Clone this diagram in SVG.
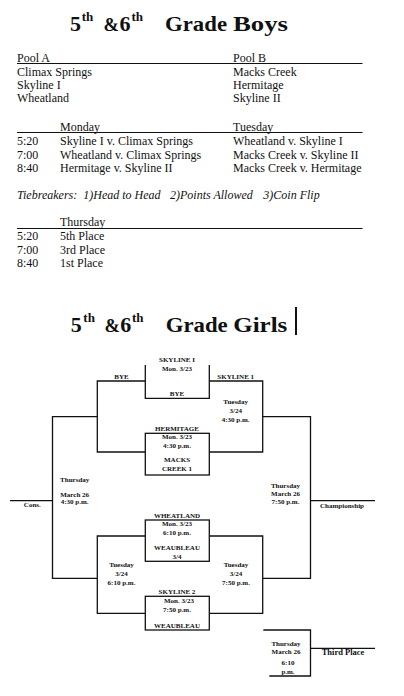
<svg xmlns="http://www.w3.org/2000/svg" width="404" height="696" viewBox="0 0 404 696">
<style>
.t{font-family:"Liberation Serif","Times New Roman",serif;font-size:12px;fill:#111}
.ti{font-family:"Liberation Serif","Times New Roman",serif;font-size:12px;font-style:italic;fill:#111}
.h{font-family:"Liberation Serif","Times New Roman",serif;font-size:22px;font-weight:bold;fill:#111}
.hs{font-size:13px}
.amp{font-size:18.5px}
.b{font-family:"Liberation Serif","Times New Roman",serif;font-size:7px;font-weight:bold;fill:#111;text-anchor:middle}
.bl{font-family:"Liberation Serif","Times New Roman",serif;font-size:8.5px;font-weight:bold;fill:#111;text-anchor:middle}
.ln{stroke:#111;stroke-width:1.3;fill:none}
.ul{stroke:#111;stroke-width:1.2;fill:none}
</style>
<rect width="404" height="696" fill="#fff"/>

<g id="boys-title">
<text class="h" y="30.7"><tspan x="70">5</tspan><tspan class="hs" x="81.7" y="20.7">th</tspan><tspan class="amp" x="103.5" y="30.7">&amp;</tspan><tspan x="119.5">6</tspan><tspan class="hs" x="131.5" y="20.7">th</tspan><tspan x="165" y="30.7" textLength="62" lengthAdjust="spacingAndGlyphs">Grade</tspan><tspan x="233" textLength="55" lengthAdjust="spacingAndGlyphs">Boys</tspan></text>
</g>

<g id="pools">
<text class="t" x="17" y="62">Pool A</text>
<text class="t" x="233" y="62">Pool B</text>
<line class="ul" x1="17" y1="63.5" x2="362.5" y2="63.5"/>
<text class="t" x="17" y="75.5">Climax Springs</text>
<text class="t" x="17" y="89">Skyline I</text>
<text class="t" x="17" y="102">Wheatland</text>
<text class="t" x="233" y="75.5">Macks Creek</text>
<text class="t" x="233" y="89">Hermitage</text>
<text class="t" x="233" y="102">Skyline II</text>
</g>

<g id="schedule">
<text class="t" x="60" y="130.5">Monday</text>
<text class="t" x="233" y="130.5">Tuesday</text>
<line class="ul" x1="17" y1="132.5" x2="362.5" y2="132.5"/>
<text class="t" x="17" y="145">5:20</text>
<text class="t" x="17" y="158.5">7:00</text>
<text class="t" x="17" y="172">8:40</text>
<text class="t" x="60" y="145">Skyline I v. Climax Springs</text>
<text class="t" x="60" y="158.5">Wheatland v. Climax Springs</text>
<text class="t" x="60" y="172">Hermitage v. Skyline II</text>
<text class="t" x="233" y="145">Wheatland v. Skyline I</text>
<text class="t" x="233" y="158.5">Macks Creek v. Skyline II</text>
<text class="t" x="233" y="172">Macks Creek v. Hermitage</text>
</g>

<g id="tiebreakers">
<text class="ti" x="17" y="198.5">Tiebreakers:</text>
<text class="ti" x="83.3" y="198.5">1)Head to Head</text>
<text class="ti" x="170" y="198.5">2)Points Allowed</text>
<text class="ti" x="263.3" y="198.5">3)Coin Flip</text>
</g>

<g id="thursday">
<text class="t" x="60" y="226">Thursday</text>
<line class="ul" x1="17" y1="228.5" x2="362.5" y2="228.5"/>
<text class="t" x="17" y="240">5:20</text>
<text class="t" x="17" y="253.5">7:00</text>
<text class="t" x="17" y="267">8:40</text>
<text class="t" x="60" y="240">5th Place</text>
<text class="t" x="60" y="253.5">3rd Place</text>
<text class="t" x="60" y="267">1st Place</text>
</g>

<g id="girls-title">
<text class="h" y="331.7"><tspan x="70.7">5</tspan><tspan class="hs" x="83.3" y="321.7">th</tspan><tspan class="amp" x="104.5" y="331.7">&amp;</tspan><tspan x="120.3">6</tspan><tspan class="hs" x="132" y="321.7">th</tspan><tspan x="165.7" y="331.7" textLength="62" lengthAdjust="spacingAndGlyphs">Grade</tspan><tspan x="233.3" textLength="54" lengthAdjust="spacingAndGlyphs">Girls</tspan></text>
<line x1="296" y1="307" x2="296" y2="335" stroke="#111" stroke-width="2"/>
</g>

<g id="connectors">
<polyline class="ln" points="145.3,365 145.3,398.3 209.3,398.3 209.3,365"/>
<polyline class="ln" points="145.3,381 97.3,381 97.3,452 145.3,452"/>
<polyline class="ln" points="209.3,381 262.7,381 262.7,452 209.3,452"/>
<polyline class="ln" points="97.3,416.7 52.5,416.7 52.5,578.3 97.3,578.3"/>
<polyline class="ln" points="262.7,416.7 310.5,416.7 310.5,578.3 262.7,578.3"/>
<line class="ln" x1="10" y1="500.7" x2="52.5" y2="500.7"/>
<line class="ln" x1="310.5" y1="500.7" x2="375" y2="500.7"/>
<polyline class="ln" points="145.3,536 97.3,536 97.3,613.3 145.3,613.3"/>
<polyline class="ln" points="209.3,536 262.7,536 262.7,613.3 209.3,613.3"/>
<polyline class="ln" points="263.3,630 310.5,630 310.5,676 269.3,676"/>
<line class="ln" x1="310.5" y1="648.3" x2="375" y2="648.3"/>
</g>

<g id="skyline1-game">
<text class="b" x="177" y="362">SKYLINE I</text>
<text class="b" x="177" y="370.5">Mon. 3/23</text>
<text class="b" x="177" y="395.7">BYE</text>
</g>
<g id="bye-label"><text class="b" x="121.5" y="379">BYE</text></g>
<g id="skyline1-label"><text class="b" x="235.7" y="379">SKYLINE 1</text></g>
<g id="tuesday-430">
<text class="b" x="235.7" y="404">Tuesday</text>
<text class="b" x="235.7" y="413.3">3/24</text>
<text class="b" x="235.7" y="421.7">4:30 p.m.</text>
</g>

<g id="hermitage-game">
<rect class="ln" x="145.3" y="433.3" width="64" height="41.7"/>
<text class="b" x="177" y="430.7">HERMITAGE</text>
<text class="b" x="177" y="438.8">Mon. 3/23</text>
<text class="b" x="177" y="448.3">4:30 p.m.</text>
<text class="b" x="177" y="461.7">MACKS</text>
<text class="b" x="177" y="470.7">CREEK 1</text>
</g>

<g id="consolation">
<text class="b" x="74.7" y="481.7">Thursday</text>
<text class="b" x="74.7" y="496.7">March 26</text>
<text class="b" x="74.7" y="504">4:30 p.m.</text>
<text class="b" x="32.3" y="507">Cons.</text>
</g>

<g id="championship">
<text class="b" x="285.5" y="488.3">Thursday</text>
<text class="b" x="285.5" y="496.3">March 26</text>
<text class="b" x="285.5" y="504">7:50 p.m.</text>
<text class="b" x="342" y="507.5">Championship</text>
</g>

<g id="wheatland-game">
<rect class="ln" x="145.3" y="520" width="64" height="41.3"/>
<text class="b" x="177" y="517.5">WHEATLAND</text>
<text class="b" x="177" y="525.5">Mon. 3/23</text>
<text class="b" x="177" y="534.5">6:10 p.m.</text>
<text class="b" x="177" y="550">WEAUBLEAU</text>
<text class="b" x="177" y="559">3/4</text>
</g>

<g id="tuesday-610">
<text class="b" x="121.5" y="567">Tuesday</text>
<text class="b" x="121.5" y="575.8">3/24</text>
<text class="b" x="121.5" y="584.5">6:10 p.m.</text>
</g>
<g id="tuesday-750">
<text class="b" x="236" y="567">Tuesday</text>
<text class="b" x="236" y="575.8">3/24</text>
<text class="b" x="236" y="584.5">7:50 p.m.</text>
</g>

<g id="skyline2-game">
<rect class="ln" x="145.3" y="596.3" width="64" height="33.7"/>
<text class="b" x="177" y="594">SKYLINE 2</text>
<text class="b" x="179" y="603">Mon. 3/23</text>
<text class="b" x="177" y="612">7:50 p.m.</text>
<text class="b" x="177" y="628.3">WEAUBLEAU</text>
</g>

<g id="third-place">
<text class="b" x="286" y="646">Thursday</text>
<text class="b" x="286" y="654">March 26</text>
<text class="b" x="288" y="665">6:10</text>
<text class="b" x="288" y="674">p.m.</text>
<text class="bl" x="343" y="655">Third Place</text>
</g>
</svg>
